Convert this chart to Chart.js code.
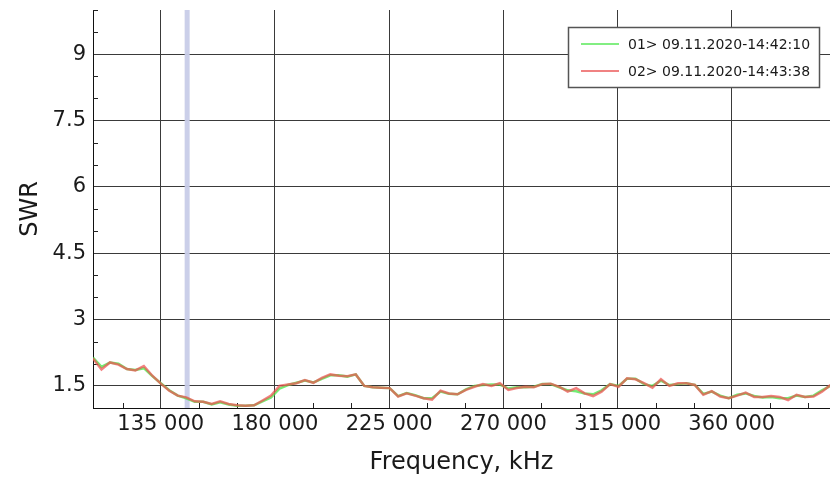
<!DOCTYPE html>
<html>
<head>
<meta charset="utf-8">
<script src="https://cdn.jsdelivr.net/npm/chart.js@4/dist/chart.umd.min.js"></script>
<style>
  html, body { margin: 0; padding: 0; background: #ffffff; }
  #wrap { width: 830px; height: 478px; position: relative; }
</style>
</head>
<body>
<div id="wrap"><canvas id="c" width="830" height="478"></canvas></div>
<script>
// ---------- data ----------
const freqs = [
  108300, 111640, 114980, 118320, 121660, 125000, 128340, 131680, 135020, 138360,
  141700, 145040, 148380, 151720, 155060, 158400, 161740, 165080, 168420, 171760,
  175100, 178440, 181780, 185120, 188460, 191800, 195140, 198480, 201820, 205160,
  208500, 211840, 215180, 218520, 221860, 225200, 228540, 231880, 235220, 238560,
  241900, 245240, 248580, 251920, 255260, 258600, 261940, 265280, 268620, 271960,
  275300, 278640, 281980, 285320, 288660, 292000, 295340, 298680, 302020, 305360,
  308700, 312040, 315380, 318720, 322060, 325400, 328740, 332080, 335420, 338760,
  342100, 345440, 348780, 352120, 355460, 358800, 362140, 365480, 368820, 372160,
  375500, 378840, 382180, 385520, 388860, 392200, 395540, 398880
];
const swr01 = [
  2.14, 1.93, 2.03, 2.00, 1.88, 1.86, 1.90, 1.72, 1.56, 1.40,
  1.28, 1.22, 1.14, 1.14, 1.08, 1.13, 1.08, 1.05, 1.05, 1.06,
  1.15, 1.24, 1.44, 1.52, 1.57, 1.62, 1.58, 1.66, 1.74, 1.74,
  1.71, 1.76, 1.50, 1.47, 1.46, 1.45, 1.27, 1.34, 1.29, 1.22,
  1.22, 1.37, 1.32, 1.31, 1.42, 1.50, 1.52, 1.53, 1.53, 1.44,
  1.47, 1.47, 1.48, 1.54, 1.54, 1.47, 1.40, 1.38, 1.33, 1.31,
  1.40, 1.54, 1.50, 1.66, 1.66, 1.54, 1.50, 1.62, 1.52, 1.54,
  1.56, 1.52, 1.32, 1.37, 1.28, 1.22, 1.30, 1.33, 1.27, 1.24,
  1.25, 1.22, 1.22, 1.28, 1.25, 1.28, 1.40, 1.50
];
const swr02 = [
  2.12, 1.87, 2.03, 1.98, 1.88, 1.85, 1.95, 1.73, 1.55, 1.39,
  1.28, 1.24, 1.15, 1.14, 1.09, 1.15, 1.09, 1.06, 1.05, 1.06,
  1.17, 1.28, 1.50, 1.53, 1.56, 1.63, 1.57, 1.68, 1.76, 1.73,
  1.72, 1.76, 1.50, 1.47, 1.46, 1.45, 1.26, 1.33, 1.28, 1.22,
  1.19, 1.39, 1.33, 1.31, 1.41, 1.48, 1.54, 1.50, 1.56, 1.41,
  1.45, 1.48, 1.47, 1.54, 1.55, 1.48, 1.37, 1.45, 1.33, 1.27,
  1.37, 1.54, 1.48, 1.67, 1.65, 1.56, 1.46, 1.65, 1.50, 1.56,
  1.56, 1.52, 1.30, 1.38, 1.26, 1.22, 1.28, 1.35, 1.25, 1.25,
  1.27, 1.25, 1.18, 1.30, 1.25, 1.26, 1.37, 1.52
];
const seriesLabels = ['01> 09.11.2020-14:42:10', '02> 09.11.2020-14:43:38'];

const xTicks = [135000, 180000, 225000, 270000, 315000, 360000];
const xTickLabels = ['135 000', '180 000', '225 000', '270 000', '315 000', '360 000'];
const xMinor = [120000, 150000, 165000, 195000, 210000, 240000, 255000, 285000, 300000, 330000, 345000, 375000, 390000];
const yTicks = [1.5, 3, 4.5, 6, 7.5, 9];
const yTickLabels = ['1.5', '3', '4.5', '6', '7.5', '9'];
const yMinor = [2, 2.5, 3.5, 4, 5, 5.5, 6.5, 7, 8, 8.5, 9.5, 10];
const markerFreq = 145400;

// ---------- chart ----------
const FONT = '"DejaVu Sans", Verdana, sans-serif';
const TEXT = '#1a1a1a';
const GRID = '#3a3a3a';

const decor = {
  id: 'decor',
  beforeDatasetsDraw(chart) {
    const { ctx, chartArea: a, scales: { x, y } } = chart;
    ctx.save();
    const bx = x.getPixelForValue(markerFreq);
    ctx.fillStyle = 'rgba(200,204,232,0.95)';
    ctx.fillRect(bx - 2.5, a.top, 5, a.bottom - a.top);
    ctx.strokeStyle = '#222';
    ctx.lineWidth = 1;
    ctx.beginPath();
    xMinor.forEach(v => {
      const px = Math.round(x.getPixelForValue(v)) + 0.5;
      ctx.moveTo(px, a.bottom);
      ctx.lineTo(px, a.bottom - 5);
    });
    yMinor.forEach(v => {
      const py = Math.round(y.getPixelForValue(v)) + 0.5;
      ctx.moveTo(a.left, py);
      ctx.lineTo(a.left + 5, py);
    });
    ctx.stroke();
    ctx.restore();
  },
  afterDraw(chart) {
    const { ctx, chartArea: a } = chart;
    const bw = 251, bh = 60;
    const bx = a.right - 11 - bw, by = a.top + 17;
    ctx.save();
    ctx.fillStyle = '#ffffff';
    ctx.fillRect(bx, by, bw, bh);
    ctx.strokeStyle = '#555';
    ctx.lineWidth = 1.5;
    ctx.strokeRect(bx + 0.5, by + 0.5, bw, bh);
    ctx.font = '14px ' + FONT;
    ctx.textBaseline = 'middle';
    ctx.fillStyle = TEXT;
    chart.data.datasets.forEach((ds, i) => {
      const ry = by + 17 + i * 27;
      ctx.strokeStyle = ds.legendColor;
      ctx.lineWidth = 2;
      ctx.beginPath();
      ctx.moveTo(bx + 13, ry);
      ctx.lineTo(bx + 51, ry);
      ctx.stroke();
      ctx.fillText(ds.label, bx + 60, ry + 1);
    });
    ctx.restore();
  }
};

new Chart(document.getElementById('c'), {
  type: 'line',
  data: {
    datasets: [
      {
        label: seriesLabels[0],
        data: freqs.map((f, i) => ({ x: f, y: swr01[i] })),
        borderColor: 'rgba(70,230,70,0.75)',
        legendColor: 'rgb(130,238,130)',
        borderWidth: 2.5,
        pointRadius: 0,
        tension: 0,
        order: 1
      },
      {
        label: seriesLabels[1],
        data: freqs.map((f, i) => ({ x: f, y: swr02[i] })),
        borderColor: 'rgba(238,80,80,0.72)',
        legendColor: 'rgb(240,130,130)',
        borderWidth: 2.5,
        pointRadius: 0,
        tension: 0,
        order: 0
      }
    ]
  },
  options: {
    responsive: false,
    animation: false,
    devicePixelRatio: 1,
    layout: { padding: { top: 10, right: 0, bottom: 0, left: 0 } },
    plugins: {
      legend: { display: false },
      tooltip: { enabled: false }
    },
    scales: {
      x: {
        type: 'linear',
        min: 108300,
        max: 398700,
        afterBuildTicks: s => { s.ticks = xTicks.map(v => ({ value: v })); },
        afterFit: s => { s.height = 70; s.paddingLeft = 0; s.paddingRight = 0; },
        ticks: {
          callback: (v, i) => xTickLabels[i],
          font: { family: FONT, size: 21 },
          color: TEXT,
          padding: 4,
          maxRotation: 0,
          autoSkip: false
        },
        grid: { color: GRID, lineWidth: 1, drawTicks: false },
        border: { color: '#111', width: 1 },
        title: {
          display: true,
          text: 'Frequency, kHz',
          font: { family: FONT, size: 24 },
          color: TEXT,
          padding: { top: 0, bottom: 1 }
        }
      },
      y: {
        type: 'linear',
        min: 1,
        max: 10,
        afterBuildTicks: s => { s.ticks = yTicks.map(v => ({ value: v })); },
        afterFit: s => { s.width = 93; s.paddingTop = 0; s.paddingBottom = 0; },
        ticks: {
          callback: (v, i) => yTickLabels[i],
          font: { family: FONT, size: 21 },
          color: TEXT,
          padding: 7
        },
        grid: { color: GRID, lineWidth: 1, drawTicks: false },
        border: { color: '#111', width: 1 },
        title: {
          display: true,
          text: 'SWR',
          font: { family: FONT, size: 24 },
          color: TEXT,
          padding: { top: 16, bottom: 0 }
        }
      }
    }
  },
  plugins: [decor]
});
</script>
</body>
</html>
